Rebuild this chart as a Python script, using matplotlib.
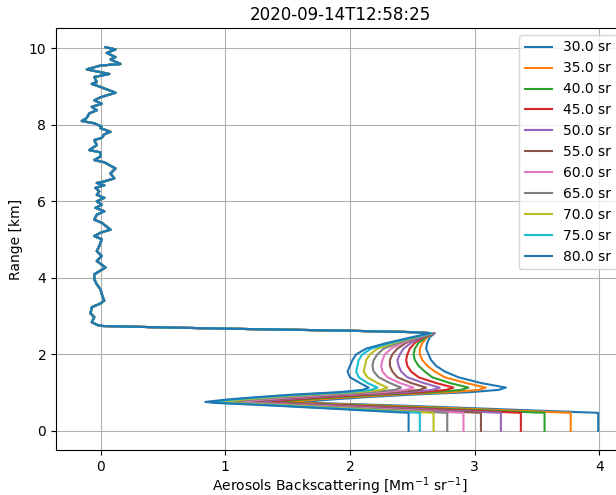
import matplotlib
matplotlib.use('Agg')
import matplotlib.pyplot as plt

# shared part of the profile (identical for every lidar ratio), top -> down
upper_alt = [10.03, 9.97, 9.88, 9.77, 9.71, 9.59, 9.55, 9.45, 9.33, 9.25, 9.12, 9.07, 8.99, 8.84, 8.72,
             8.64, 8.55, 8.47, 8.38, 8.30, 8.18, 8.10, 8.04, 7.95, 7.91, 7.82, 7.75, 7.66, 7.60, 7.47,
             7.34, 7.28, 7.17, 7.08, 7.02, 6.86, 6.73, 6.60, 6.52, 6.48, 6.42, 6.35, 6.26, 6.17, 6.09,
             6.00, 5.91, 5.83, 5.74, 5.65, 5.52, 5.44, 5.26, 5.18, 5.09, 5.01, 4.83, 4.70, 4.57, 4.44,
             4.27, 4.09, 3.96, 3.83, 3.70, 3.57, 3.40, 3.33, 3.23, 3.07, 2.97, 2.84, 2.76, 2.74, 2.70,
             2.66, 2.62, 2.58]
upper_val = [0.04, 0.12, 0.05, 0.12, 0.08, 0.16, 0.0, -0.11, 0.07, -0.05, -0.03, -0.07, 0.0, 0.12, 0.0,
             -0.05, 0.01, -0.07, -0.03, -0.09, -0.11, -0.15, -0.05, 0.01, 0.0, 0.08, 0.03, 0.01, -0.05, -0.03,
             -0.09, 0.0, 0.0, -0.05, 0.03, 0.12, 0.08, 0.11, 0.03, -0.03, 0.03, -0.04, -0.01, -0.03, 0.03,
             -0.03, 0.01, -0.04, 0.03, -0.03, -0.05, 0.01, 0.08, 0.0, -0.05, 0.01, -0.01, -0.03, 0.01, -0.03,
             0.04, -0.05, -0.05, -0.03, 0.0, 0.01, 0.03, 0.0, -0.07, -0.08, -0.05, -0.07, -0.02, 0.02, 0.55,
             1.2, 1.95, 2.5]

# lower part, one list per lidar ratio
lower_alt = [2.55, 2.45, 2.3, 2.15, 2.0, 1.85, 1.7, 1.55, 1.4, 1.25, 1.13, 1.07, 1.01, 0.95, 0.88,
             0.82, 0.78, 0.755, 0.73, 0.66, 0.59, 0.53, 0.47, 0.0]

lidar_ratios = [30.0, 35.0, 40.0, 45.0, 50.0, 55.0, 60.0, 65.0, 70.0, 75.0, 80.0]

s30 = [2.68, 2.64, 2.62, 2.61, 2.63, 2.65, 2.69, 2.76, 2.87, 3.05, 3.25, 3.19, 2.96, 2.52, 2.13, 1.86, 1.71, 1.63, 1.71, 2.41, 3.00, 3.49, 3.99, 3.99]
s35 = [2.67, 2.62, 2.58, 2.56, 2.56, 2.58, 2.62, 2.68, 2.76, 2.93, 3.09, 3.03, 2.81, 2.38, 2.01, 1.74, 1.60, 1.52, 1.60, 2.26, 2.83, 3.30, 3.77, 3.77]
s40 = [2.67, 2.61, 2.55, 2.52, 2.51, 2.52, 2.55, 2.60, 2.66, 2.80, 2.95, 2.89, 2.67, 2.26, 1.89, 1.63, 1.50, 1.42, 1.50, 2.13, 2.66, 3.11, 3.56, 3.56]
s45 = [2.67, 2.59, 2.52, 2.48, 2.46, 2.45, 2.46, 2.49, 2.55, 2.69, 2.83, 2.77, 2.56, 2.16, 1.80, 1.55, 1.41, 1.34, 1.42, 2.01, 2.52, 2.94, 3.37, 3.37]
s50 = [2.67, 2.58, 2.49, 2.43, 2.40, 2.38, 2.39, 2.41, 2.46, 2.59, 2.72, 2.66, 2.46, 2.06, 1.71, 1.46, 1.33, 1.26, 1.34, 1.90, 2.39, 2.80, 3.21, 3.21]
s55 = [2.66, 2.56, 2.45, 2.38, 2.34, 2.32, 2.32, 2.34, 2.38, 2.49, 2.61, 2.56, 2.35, 1.97, 1.63, 1.39, 1.26, 1.19, 1.27, 1.80, 2.27, 2.66, 3.05, 3.05]
s60 = [2.66, 2.55, 2.42, 2.33, 2.28, 2.26, 2.25, 2.26, 2.30, 2.40, 2.51, 2.45, 2.26, 1.88, 1.55, 1.31, 1.19, 1.12, 1.20, 1.71, 2.16, 2.53, 2.91, 2.91]
s65 = [2.66, 2.54, 2.39, 2.27, 2.22, 2.19, 2.18, 2.19, 2.23, 2.32, 2.41, 2.36, 2.16, 1.79, 1.46, 1.23, 1.11, 1.04, 1.12, 1.61, 2.05, 2.41, 2.78, 2.78]
s70 = [2.65, 2.53, 2.36, 2.22, 2.16, 2.13, 2.12, 2.11, 2.14, 2.22, 2.30, 2.25, 2.06, 1.70, 1.38, 1.15, 1.03, 0.96, 1.04, 1.52, 1.95, 2.31, 2.67, 2.67]
s75 = [2.65, 2.52, 2.33, 2.17, 2.10, 2.07, 2.06, 2.05, 2.07, 2.14, 2.22, 2.17, 1.98, 1.62, 1.30, 1.07, 0.95, 0.88, 0.96, 1.43, 1.85, 2.21, 2.56, 2.56]
s80 = [2.64, 2.50, 2.30, 2.13, 2.05, 2.02, 2.00, 1.98, 2.00, 2.08, 2.15, 2.10, 1.91, 1.56, 1.25, 1.02, 0.91, 0.84, 0.92, 1.38, 1.79, 2.13, 2.47, 2.47]

profiles = [s30, s35, s40, s45, s50, s55, s60, s65, s70, s75, s80]

fig = plt.figure(figsize=(6.16, 4.95), dpi=100)
ax = fig.add_axes([56/616, 45/495, 568/616, 422/495])

for lr, prof in zip(lidar_ratios, profiles):
    ax.plot(upper_val + prof, upper_alt + lower_alt, label=f"{lr} sr")

ax.set_xlabel('Aerosols Backscattering [Mm$^{-1}$ sr$^{-1}$]', labelpad=1)
ax.set_ylabel('Range [km]')
ax.set_title('2020-09-14T12:58:25')
ax.grid(True)
ax.legend(loc='upper right')

fig.savefig('out.png', dpi=100)
